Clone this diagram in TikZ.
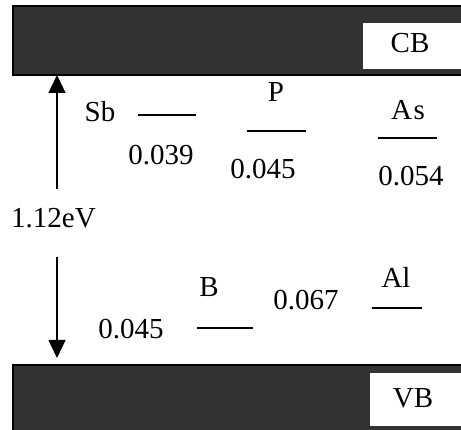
\documentclass[tikz,border=0pt]{standalone}
\usepackage{fontspec}
\setmainfont{Liberation Serif}
\usetikzlibrary{arrows.meta}
\definecolor{bandfill}{RGB}{51,51,51}
\begin{document}
\begin{tikzpicture}[x=1pt,y=1pt,
  lbl/.style={font=\fontsize{29}{34}\selectfont, inner sep=0pt, anchor=base},
  band/.style={fill=bandfill, draw=black, line width=1.3pt},
  tag/.style={fill=white, draw=none},
  level/.style={line width=1.3pt},
  gap/.style={line width=1.3pt, -{Triangle[length=18pt,width=17pt]}}]
\useasboundingbox (0,0) rectangle (461,430);
\clip (0,0) rectangle (461,430);
% conduction band
\draw[band] (13,355) rectangle (475,424);
\fill[tag] (363,361) rectangle (475,407);
\node[lbl] (cb) at (410,377) {CB};
% valence band
\draw[band] (13,-5) rectangle (475,65);
\fill[tag] (370,4) rectangle (475,57);
\node[lbl] (vb) at (413,22) {VB};
% gap arrows and label
\node[lbl, anchor=base west] (gaplabel) at (11,202) {1.12eV};
\coordinate (upstart) at (57,241);
\coordinate (cbedge) at (57,355);
\coordinate (downstart) at (57,173);
\coordinate (vbedge) at (57,72);
\draw[gap] (upstart) -- (cbedge);
\draw[gap] (downstart) -- (vbedge);
% donor levels
\node[lbl] (sb) at (100,308) {Sb};
\draw[level] (138,315) -- (196,315);
\node[lbl] (sbval) at (161,265) {0.039};
\node[lbl] (p) at (276,328) {P};
\draw[level] (247,299) -- (306,299);
\node[lbl] (pval) at (263,251) {0.045};
\node[lbl] (as) at (408,310) {A\kern1.5pt s};
\draw[level] (378,292) -- (437,292);
\node[lbl] (asval) at (411,244) {0.054};
% acceptor levels
\node[lbl] (b) at (209,133) {B};
\draw[level] (197,102) -- (253,102);
\node[lbl] (bval) at (131,91) {0.045};
\node[lbl] (al) at (396,142) {Al};
\draw[level] (372,122) -- (422,122);
\node[lbl] (alval) at (306,120) {0.067};
\end{tikzpicture}
\end{document}
